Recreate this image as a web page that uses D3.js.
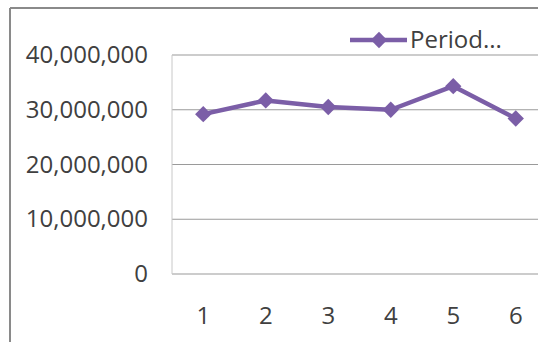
<!DOCTYPE html>
<html>
<head>
<meta charset="utf-8">
<script src="https://cdn.jsdelivr.net/npm/d3@7"></script>
<style>
  body { margin: 0; background: #fff; }
  svg { display: block; }
</style>
</head>
<body>
<div id="chart"></div>
<script>
// Data
const periods = ["1", "2", "3", "4", "5", "6"];
const values = [29200000, 31700000, 30500000, 30000000, 34300000, 28400000];
const yTicks = [0, 10000000, 20000000, 30000000, 40000000];
const seriesName = "Period...";

const W = 538, H = 342;
const margin = { top: 55, right: -9, bottom: 68, left: 172 };
const width  = W - margin.left - margin.right;
const height = H - margin.top - margin.bottom;

const purple = "#7b5ea7";
const font = "'Open Sans', sans-serif";

const svg = d3.select("#chart")
  .append("svg")
  .attr("width", W)
  .attr("height", H);

// Outer chart border (top and left visible)
svg.append("line")
  .attr("x1", 10).attr("x2", W).attr("y1", 8).attr("y2", 8)
  .attr("stroke", "#8a8a8a").attr("stroke-width", 2);
svg.append("line")
  .attr("x1", 10).attr("x2", 10).attr("y1", 8).attr("y2", H)
  .attr("stroke", "#8a8a8a").attr("stroke-width", 2);

const g = svg.append("g")
  .attr("transform", `translate(${margin.left},${margin.top})`);

// Scales
const x = d3.scaleBand()
  .domain(periods)
  .range([0, width]);

const y = d3.scaleLinear()
  .domain([0, 40000000])
  .range([height, 0]);

// Gridlines
g.selectAll("line.grid")
  .data(yTicks)
  .join("line")
  .attr("class", "grid")
  .attr("x1", 0).attr("x2", width)
  .attr("y1", d => y(d)).attr("y2", d => y(d))
  .attr("stroke", "#9a9a9a")
  .attr("stroke-width", 1.2);

// Left edge of plot area
g.append("line")
  .attr("x1", 0).attr("x2", 0)
  .attr("y1", 0).attr("y2", height)
  .attr("stroke", "#c8c8c8")
  .attr("stroke-width", 1);

// Y axis labels
const yAxis = d3.axisLeft(y)
  .tickValues(yTicks)
  .tickSize(0)
  .tickPadding(24)
  .tickFormat(d3.format(","));

g.append("g")
  .call(yAxis)
  .call(s => s.select(".domain").remove())
  .selectAll("text")
  .style("font-family", font)
  .style("font-size", "24px")
  .attr("fill", "#404040");

// X axis labels
const xAxis = d3.axisBottom(x).tickSize(0).tickPadding(33);

g.append("g")
  .attr("transform", `translate(0,${height})`)
  .call(xAxis)
  .call(s => s.select(".domain").remove())
  .selectAll("text")
  .style("font-family", font)
  .style("font-size", "24px")
  .attr("fill", "#404040");

// Line
const line = d3.line()
  .x((d, i) => x(periods[i]) + x.bandwidth() / 2)
  .y(d => y(d));

g.append("path")
  .datum(values)
  .attr("d", line)
  .attr("fill", "none")
  .attr("stroke", purple)
  .attr("stroke-width", 4.5)
  .attr("stroke-linejoin", "round");

const diamond = d3.symbol().type(d3.symbolDiamond2).size(170);

g.selectAll("path.marker")
  .data(values)
  .join("path")
  .attr("class", "marker")
  .attr("d", diamond)
  .attr("transform", (d, i) => `translate(${x(periods[i]) + x.bandwidth() / 2},${y(d)})`)
  .attr("fill", purple);

// Legend
const legend = svg.append("g").attr("transform", "translate(350,40)");
legend.append("line")
  .attr("x1", 0).attr("x2", 57)
  .attr("stroke", purple)
  .attr("stroke-width", 4.5);
legend.append("path")
  .attr("d", diamond)
  .attr("transform", "translate(29,0)")
  .attr("fill", purple);
legend.append("text")
  .attr("x", 60)
  .attr("y", 8)
  .style("font-family", font)
  .style("font-size", "24px")
  .attr("fill", "#404040")
  .text(seriesName);
</script>
</body>
</html>
